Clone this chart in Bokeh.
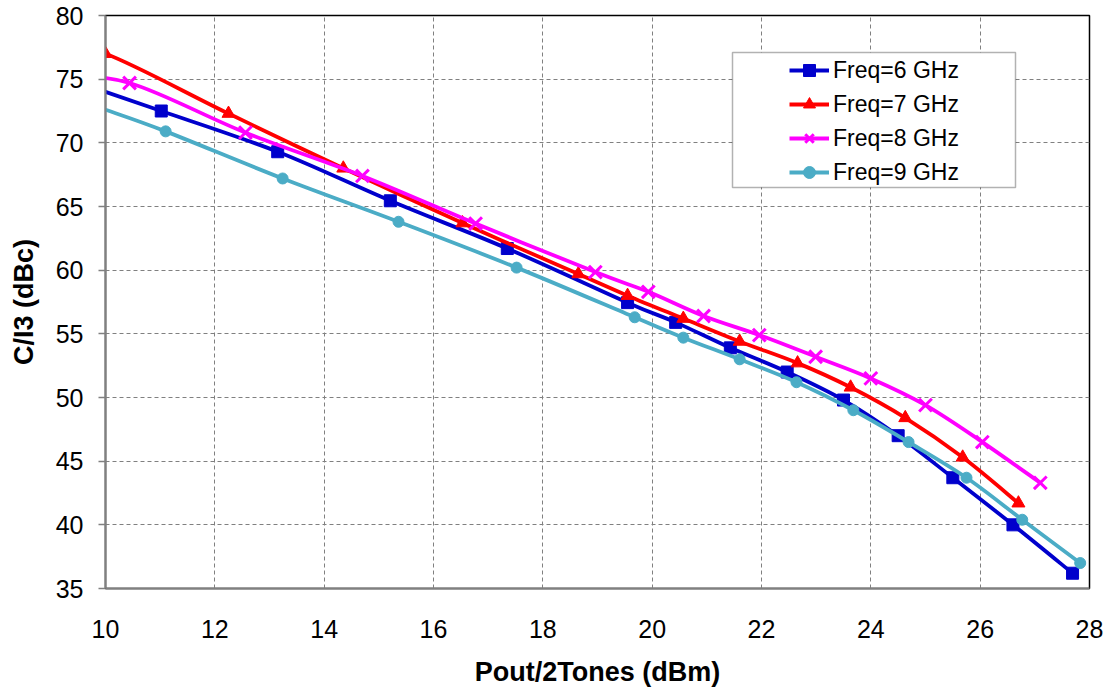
from bokeh.plotting import figure
from bokeh.models import (Range1d, FixedTicker, Legend, LegendItem, BoxAnnotation,
                          ColumnDataSource)
from bokeh.embed import file_html
from bokeh.resources import INLINE

# ---------------- data ----------------
# points left of x=10 are outside the axis range (only the curve entering the frame shows)
x_6 = [10.0, 11.02, 13.15, 15.21, 17.35, 19.55, 20.43, 21.43, 22.47, 23.5, 24.5, 25.5, 26.6, 27.69]
y_6 = [74.0, 72.5, 69.3, 65.45, 61.7, 57.45, 55.9, 53.9, 52.0, 49.8, 47.0, 43.7, 40.0, 36.2]

x_7 = [9.0, 10.0, 12.25, 14.35, 16.53, 18.65, 19.55, 20.57, 21.6, 22.66, 23.63, 24.63, 25.68, 26.7]
y_7 = [77.5, 77.0, 72.3, 68.0, 63.7, 59.7, 58.0, 56.2, 54.4, 52.7, 50.8, 48.4, 45.3, 41.7]

x_8 = [9.0, 10.44, 12.56, 14.7, 16.77, 18.96, 19.93, 20.94, 21.96, 22.99, 24.0, 25.0, 26.04, 27.1]
y_8 = [75.3, 74.7, 70.8, 67.4, 63.66, 59.85, 58.3, 56.4, 54.9, 53.2, 51.5, 49.4, 46.5, 43.3]

x_9 = [10.0, 11.1, 13.24, 15.36, 17.52, 19.68, 20.57, 21.6, 22.64, 23.68, 24.69, 25.75, 26.77, 27.83]
y_9 = [72.6, 70.9, 67.2, 63.8, 60.2, 56.3, 54.7, 53.0, 51.2, 49.0, 46.5, 43.7, 40.4, 37.0]

labels = ["Freq=6 GHz", "Freq=7 GHz", "Freq=8 GHz", "Freq=9 GHz"]
x_ticks = [10, 12, 14, 16, 18, 20, 22, 24, 26, 28]
y_ticks = [35, 40, 45, 50, 55, 60, 65, 70, 75, 80]

# ---------------- styles ----------------
colors = ["#0000CC", "#FF0000", "#FF00FF", "#4BACC6"]
markers = ["square", "triangle", "x", "circle"]
msizes = [12, 13, 18, 11]
# series 6 and 9 start exactly where the line enters the frame (no marker there)
marker_start = [1, 0, 0, 1]

FONT = "Liberation Sans"

p = figure(width=1108, height=694, output_backend="svg", toolbar_location=None,
           x_range=Range1d(10, 28), y_range=Range1d(35, 80),
           min_border_left=105, min_border_right=19, min_border_top=15,
           min_border_bottom=106)
p.background_fill_color = "white"
p.border_fill_color = "white"
p.outline_line_color = "black"
p.outline_line_width = 1.5

# grids
for g in (p.xgrid, p.ygrid):
    g.grid_line_color = "#808080"
    g.grid_line_dash = "4 3"
    g.grid_line_width = 1
p.xgrid.ticker = FixedTicker(ticks=x_ticks)
p.ygrid.ticker = FixedTicker(ticks=y_ticks)

# axes
p.xaxis.ticker = FixedTicker(ticks=x_ticks)
p.yaxis.ticker = FixedTicker(ticks=y_ticks)
for ax in (p.xaxis[0], p.yaxis[0]):
    ax.axis_line_color = "#808080"
    ax.axis_line_width = 2
    ax.major_tick_line_color = "#808080"
    ax.major_tick_line_width = 1.5
    ax.minor_tick_line_color = None
    ax.major_label_text_font = FONT
    ax.major_label_text_font_size = "25px"
    ax.major_label_text_color = "black"
    ax.axis_label_text_font = FONT
    ax.axis_label_text_font_size = "27px"
    ax.axis_label_text_font_style = "bold"
    ax.axis_label_text_color = "black"
p.xaxis.major_tick_out = 0
p.xaxis.major_tick_in = 0
p.xaxis.major_label_standoff = 31
p.xaxis.axis_label_standoff = 16
p.yaxis.major_tick_out = 7
p.yaxis.major_tick_in = 0
p.yaxis.major_label_standoff = 15
p.yaxis.axis_label_standoff = 14
p.xaxis.axis_label = "Pout/2Tones (dBm)"
p.yaxis.axis_label = "C/I3 (dBc)"


def smooth_segments(xs, ys):
    """Catmull-Rom style Bezier control points through the given points."""
    n = len(xs)
    out = dict(x0=[], y0=[], x1=[], y1=[], cx0=[], cy0=[], cx1=[], cy1=[])
    for i in range(n - 1):
        i0 = max(i - 1, 0)
        i3 = min(i + 2, n - 1)
        out["x0"].append(xs[i]); out["y0"].append(ys[i])
        out["x1"].append(xs[i + 1]); out["y1"].append(ys[i + 1])
        out["cx0"].append(xs[i] + (xs[i + 1] - xs[i0]) / 6.0)
        out["cy0"].append(ys[i] + (ys[i + 1] - ys[i0]) / 6.0)
        out["cx1"].append(xs[i + 1] - (xs[i3] - xs[i]) / 6.0)
        out["cy1"].append(ys[i + 1] - (ys[i3] - ys[i]) / 6.0)
    return out


series = [(x_6, y_6), (x_7, y_7), (x_8, y_8), (x_9, y_9)]

# legend frame (drawn behind the legend entries)
frame_w, frame_h = 984.0, 573.0
box_px = dict(left=627, right=910, top=37, bottom=172)  # px inside the frame
xr = (10.0, 28.0); yr = (35.0, 80.0)
box = BoxAnnotation(
    left=xr[0] + box_px["left"] / frame_w * (xr[1] - xr[0]),
    right=xr[0] + box_px["right"] / frame_w * (xr[1] - xr[0]),
    top=yr[1] - box_px["top"] / frame_h * (yr[1] - yr[0]),
    bottom=yr[1] - box_px["bottom"] / frame_h * (yr[1] - yr[0]),
    fill_color="white", fill_alpha=1.0, line_color="black", line_width=1.5,
    level="overlay")

items = []
for (xs, ys), c, m, ms, st, lab in zip(series, colors, markers, msizes, marker_start, labels):
    seg = ColumnDataSource(smooth_segments(xs, ys))
    bz = p.bezier(x0="x0", y0="y0", x1="x1", y1="y1", cx0="cx0", cy0="cy0",
                  cx1="cx1", cy1="cy1", source=seg, line_color=c, line_width=3.8)
    if m == "x":
        sc = p.scatter(xs[st:], ys[st:], marker=m, size=ms, line_color=c,
                       line_width=3, fill_color=c)
    else:
        sc = p.scatter(xs[st:], ys[st:], marker=m, size=ms, line_color=c,
                       line_width=1, fill_color=c)
    items.append(LegendItem(label=lab, renderers=[bz, sc]))

p.add_layout(box)
legend = Legend(items=items, location=(679, 396), orientation="vertical",
                label_text_font=FONT, label_text_font_size="23px",
                label_text_color="black", glyph_width=40, glyph_height=30,
                label_height=30, label_standoff=4, spacing=4, padding=5,
                margin=0, border_line_alpha=0, background_fill_alpha=0)
legend.level = "overlay"
p.add_layout(legend, "center")

open("out.html", "w").write(file_html(p, INLINE))
